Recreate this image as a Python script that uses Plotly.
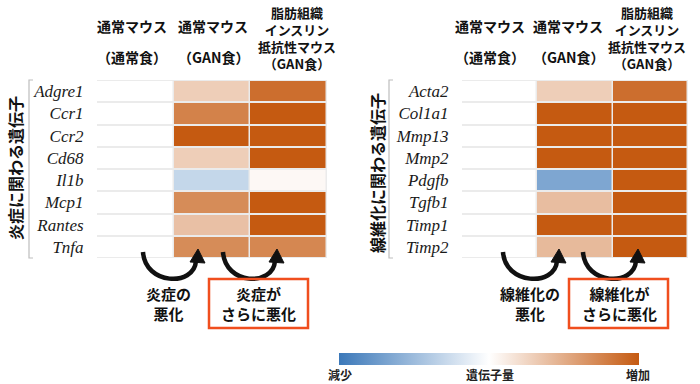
import plotly.graph_objects as go

# ---------------- data ----------------
groups = ["通常マウス（通常食）", "通常マウス（GAN食）", "脂肪組織インスリン抵抗性マウス（GAN食）"]
header_top = ["通常マウス", "通常マウス"]
header_bottom = ["（通常食）", "（GAN食）"]
header_third = ["脂肪組織", "インスリン", "抵抗性マウス", "（GAN食）"]

inflam_genes = ["Adgre1", "Ccr1", "Ccr2", "Cd68", "Il1b", "Mcp1", "Rantes", "Tnfa"]
inflam_normal = [0, 0, 0, 0, 0, 0, 0, 0]
inflam_gan = [0.30, 0.76, 1.0, 0.30, -0.30, 0.70, 0.38, 0.70]
inflam_resist = [0.88, 1.0, 1.0, 1.0, 0.04, 1.0, 1.0, 0.73]

fib_genes = ["Acta2", "Col1a1", "Mmp13", "Mmp2", "Pdgfb", "Tgfb1", "Timp1", "Timp2"]
fib_normal = [0, 0, 0, 0, 0, 0, 0, 0]
fib_gan = [0.30, 1.0, 1.0, 1.0, -0.66, 0.40, 1.0, 0.42]
fib_resist = [0.88, 1.0, 1.0, 1.0, 1.0, 1.0, 1.0, 1.0]

left_title = "炎症に関わる遺伝子"
right_title = "線維化に関わる遺伝子"
left_notes = ["炎症の<br>悪化", "炎症が<br>さらに悪化"]
right_notes = ["線維化の<br>悪化", "線維化が<br>さらに悪化"]
scale_labels = ["減少", "遺伝子量", "増加"]

# ---------------- helpers ----------------
W, H = 700, 384


def px(x, y):
    return x / W, 1 - y / H


def ps(x, y):
    a, b = px(x, y)
    return f"{a:.5f},{b:.5f}"


def rows(genes, *cols):
    return [[c[i] for c in cols] for i in range(len(genes))]


CJK = "Noto Sans CJK JP"
SERIF = "Liberation Serif"

fig = go.Figure()
fig.add_trace(go.Heatmap(
    z=rows(inflam_genes, inflam_normal, inflam_gan, inflam_resist),
    x=groups, y=inflam_genes, coloraxis="coloraxis",
    xgap=1.5, ygap=2, xaxis="x", yaxis="y", hoverongaps=False))
fig.add_trace(go.Heatmap(
    z=rows(fib_genes, fib_normal, fib_gan, fib_resist),
    x=groups, y=fib_genes, coloraxis="coloraxis",
    xgap=1.5, ygap=2, xaxis="x2", yaxis="y2", hoverongaps=False))

ydom = [1 - 258 / H, 1 - 80 / H]
common_x = dict(showticklabels=False, showgrid=False, zeroline=False, ticks="")
common_y = dict(autorange="reversed", showgrid=False, zeroline=False,
                ticks="outside", ticklen=9, tickcolor="rgba(0,0,0,0)",
                tickfont=dict(family=SERIF, size=17, color="#1a1a1a", style="italic"),
                domain=ydom)

fig.update_layout(
    width=W, height=H,
    margin=dict(l=0, r=0, t=0, b=0),
    paper_bgcolor="white", plot_bgcolor="#EBEBEB",
    showlegend=False,
    xaxis=dict(domain=[97 / W, 327 / W], anchor="y", **common_x),
    yaxis=dict(anchor="x", **common_y),
    xaxis2=dict(domain=[462 / W, 688 / W], anchor="y2", **common_x),
    yaxis2=dict(anchor="x2", **common_y),
    coloraxis=dict(
        cmin=-1, cmax=1,
        colorscale=[[0, "#3B78B9"], [0.5, "#FFFFFF"], [1, "#C55A11"]],
        colorbar=dict(orientation="h", x=489 / W, xanchor="center",
                      y=1 - 359 / H, yanchor="middle", xpad=0, ypad=0,
                      len=300, lenmode="pixels", thickness=12, thicknessmode="pixels",
                      outlinewidth=0, showticklabels=False, ticks=""),
    ),
)

ann = []
hfont = dict(family=CJK, size=14, color="#111", weight="bold")
hfont3 = dict(family=CJK, size=13, color="#111", weight="bold")


def add_text(x, y, text, font, **kw):
    a, b = px(x, y)
    ann.append(dict(x=a, y=b, xref="paper", yref="paper", text=text, showarrow=False,
                    font=font, xanchor=kw.pop("xanchor", "center"),
                    yanchor=kw.pop("yanchor", "middle"), **kw))


# headers
for left, centers in [(0, [132, 213, 297]), (350, [140, 218, 297])]:
    for i in range(2):
        add_text(left + centers[i], 26, header_top[i], hfont)
        add_text(left + centers[i], 57, header_bottom[i], hfont)
    add_text(left + centers[2], 38.5, "<br>".join(header_third), hfont3)

# y titles
tfont = dict(family=CJK, size=16, color="#111", weight="bold")
add_text(15, 168, left_title, tfont, textangle=-90)
add_text(377, 173, right_title, tfont, textangle=-90)

# notes
nfont = dict(family=CJK, size=15, color="#111", weight="bold")
add_text(168, 303, left_notes[0], nfont)
add_text(258, 303, left_notes[1], nfont)
add_text(530, 303, right_notes[0], nfont)
add_text(619, 303, right_notes[1], nfont)

# colour scale labels
sfont = dict(family=CJK, size=12, color="#222", weight="bold")
add_text(340, 374, scale_labels[0], sfont)
add_text(490, 374, scale_labels[1], sfont)
add_text(638, 374, scale_labels[2], sfont)

fig.update_layout(annotations=ann)

shapes = []
# brackets
for bx in [29, 389]:
    path = f"M {ps(bx + 4, 80)} L {ps(bx, 80)} L {ps(bx, 258)} L {ps(bx + 4, 258)}"
    shapes.append(dict(type="path", xref="paper", yref="paper", path=path,
                       line=dict(color="#BDBDBD", width=1.2)))

# curved arrows
for x0, x1 in [(143, 196), (223, 275), (503, 557), (583, 636)]:
    path = (f"M {ps(x0, 252)} C {ps(x0 + 2, 285)} {ps(x1 - 2, 287)} {ps(x1, 261)}")
    shapes.append(dict(type="path", xref="paper", yref="paper", path=path,
                       line=dict(color="#111", width=4.5)))
    tri = f"M {ps(x1 + 2, 249)} L {ps(x1 - 6, 262)} L {ps(x1 + 9, 263)} Z"
    shapes.append(dict(type="path", xref="paper", yref="paper", path=tri,
                       fillcolor="#111", line=dict(color="#111", width=1)))

# red boxes
for bx0, bx1 in [(209, 308), (569, 668)]:
    a0, b0 = px(bx0, 328)
    a1, b1 = px(bx1, 279)
    shapes.append(dict(type="rect", xref="paper", yref="paper", x0=a0, y0=b0, x1=a1, y1=b1,
                       line=dict(color="#F04E1E", width=2.5)))

fig.update_layout(shapes=shapes)
fig.write_html("out.html", config={"displayModeBar": False},
               post_script="document.body.style.margin='0';document.body.style.overflow='hidden';")
